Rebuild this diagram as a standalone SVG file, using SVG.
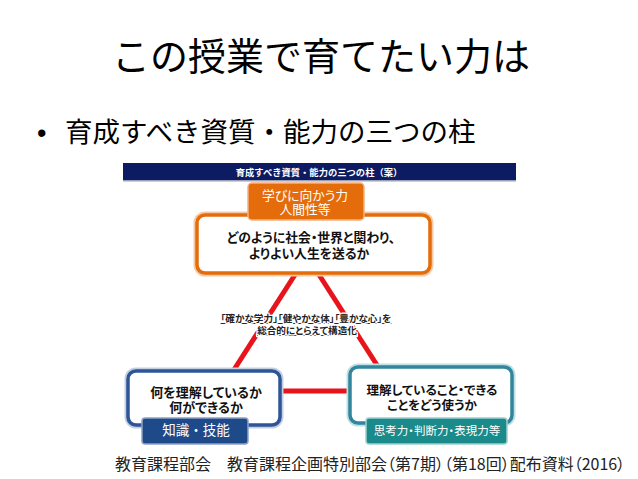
<svg xmlns="http://www.w3.org/2000/svg" width="638" height="479" viewBox="0 0 638 479">
<style>
.jp{font-family:"Noto Sans CJK JP","Noto Sans CJK SC",sans-serif}
.p{font-feature-settings:"palt"}
.b{font-weight:bold}
.w{fill:#fff}
.k{fill:#111}
.mid{text-anchor:middle}
.halo{fill:#fff;stroke-width:7}
.edge{fill:#fff;stroke-width:3.5}
.conn{stroke:#e8141c;stroke-width:5;stroke-linecap:butt}
.cap{font-size:9.6px;font-weight:bold;fill:#222;text-decoration:underline;paint-order:stroke;stroke:#fff;stroke-width:2.5px;stroke-linejoin:round}
</style>
<rect width="638" height="479" fill="#fff"/>

<g id="title">
<text class="jp mid" x="321" y="70" font-size="38" fill="#000">この授業で育てたい力は</text>
</g>

<g id="bullet">
<text x="37" y="142" font-family="Liberation Sans, sans-serif" font-size="27" fill="#000">•</text>
<text class="jp" x="65" y="142" font-size="27.5" fill="#000">育成すべき資質・能力の三つの柱</text>
</g>

<g id="header">
<rect x="123" y="163" width="393" height="17" fill="#0d1b62"/>
<rect x="123" y="180" width="393" height="1.5" fill="#9aa0b8"/>
<text class="jp b w mid" x="319" y="176.3" font-size="9.3">育成すべき資質・能力の三つの柱（案）</text>
</g>

<g id="connectors">
<line class="conn" x1="307" y1="256" x2="221" y2="390"/>
<line class="conn" x1="307" y1="256" x2="393" y2="390"/>
<line class="conn" x1="221" y1="391" x2="393" y2="391"/>
</g>

<g id="caption">
<text class="jp p cap mid" x="306" y="322">「確かな学力」「健やかな体」「豊かな心」を</text>
<text class="jp p cap mid" x="307" y="334">総合的にとらえて構造化</text>
</g>

<g id="node-top">
<rect x="197" y="215" width="233" height="58" rx="8" class="halo" stroke="#f6c9a6"/>
<rect x="197" y="215" width="233" height="58" rx="8" class="edge" stroke="#e46c0a"/>
<rect x="248" y="183" width="116" height="37" rx="4" fill="#e46c0a" stroke="#f4b183" stroke-width="1.5"/>
<text class="jp p w mid" x="305" y="199.5" font-size="12.8">学びに向かう力</text>
<text class="jp p w mid" x="305" y="213.5" font-size="12.8">人間性等</text>
<text class="jp p b k mid" x="311" y="241.5" font-size="12.8">どのように社会・世界と関わり、</text>
<text class="jp p b k mid" x="309" y="257.5" font-size="12.8">よりよい人生を送るか</text>
</g>

<g id="node-left">
<rect x="128" y="371" width="152" height="54" rx="8" class="halo" stroke="#c3cde0"/>
<rect x="128" y="371" width="152" height="54" rx="8" class="edge" stroke="#2e5597"/>
<rect x="142" y="418" width="106" height="26" rx="3" fill="#1f4a8a" stroke="#8ea3c8" stroke-width="1.5"/>
<text class="jp w mid" x="196" y="435" font-size="13.5">知識・技能</text>
<text class="jp p b k mid" x="206" y="396.5" font-size="13">何を理解しているか</text>
<text class="jp p b k mid" x="206" y="411.5" font-size="13">何ができるか</text>
</g>

<g id="node-right">
<rect x="350" y="367" width="162" height="56" rx="8" class="halo" stroke="#bfdfe2"/>
<rect x="350" y="367" width="162" height="56" rx="8" class="edge" stroke="#31859c"/>
<rect x="366" y="418" width="141" height="26" rx="3" fill="#1b8a8b" stroke="#9fd0d2" stroke-width="1.5"/>
<text class="jp p w mid" x="437" y="435" font-size="11.5">思考力・判断力・表現力等</text>
<text class="jp p b k mid" x="432" y="394.5" font-size="12.5">理解していること・できる</text>
<text class="jp p b k mid" x="432" y="409.5" font-size="12.5">ことをどう使うか</text>
</g>

<g id="footer">
<text class="jp p" x="115" y="470" font-size="16" fill="#222">教育課程部会　教育課程企画特別部会（第7期）（第18回）配布資料（2016）</text>
</g>
</svg>
